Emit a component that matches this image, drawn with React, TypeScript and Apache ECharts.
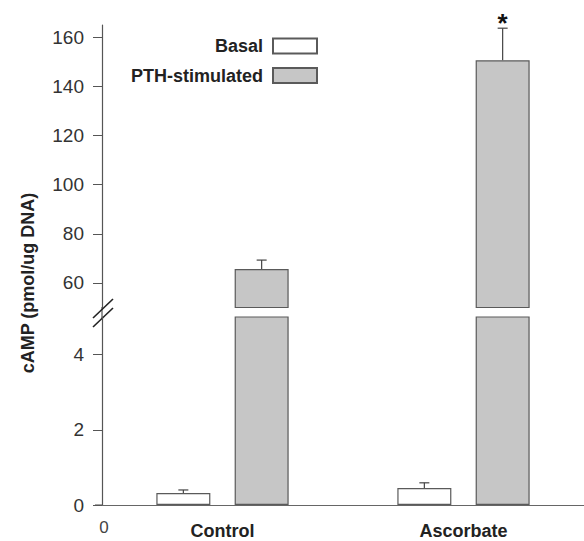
import React, { useEffect, useRef } from 'react';
import * as echarts from 'echarts';

const categories = ['Control', 'Ascorbate'];
const seriesNames = ['Basal', 'PTH-stimulated'];
const basal = [0.32, 0.45];
const basalErr = [0.4, 0.59];
const pth = [65.7, 150.6];
const pthErr = [69.3, 163.7];
const significance = ['', '*'];
const lowerTicks = [0, 2, 4];
const upperTicks = [60, 80, 100, 120, 140, 160];
const yTitle = 'cAMP (pmol/ug DNA)';
const originLabel = '0';

const FONT = '"Liberation Sans", Arial, Helvetica, sans-serif';
const BAR_W = 54;
const GAP_RATIO = 0.45;
const OFFSET = (BAR_W * (1 + GAP_RATIO)) / 2;
const AXIS_COLOR = '#555';
const BAR_BORDER = '#5a5a5a';
const PTH_FILL = '#c6c6c6';

function errorSeries(xIdx: number, vals: number[], errs: number[], sign: number, marks: string[]) {
  return {
    type: 'custom',
    xAxisIndex: xIdx,
    yAxisIndex: xIdx,
    silent: true,
    data: vals.map((v, i) => [i, v, errs[i]]),
    renderItem: (params: any, api: any) => {
      const c = api.coord([api.value(0), api.value(1)]);
      const t = api.coord([api.value(0), api.value(2)]);
      const x = c[0] + sign * OFFSET;
      const style = { stroke: '#444', lineWidth: 1.2 };
      const children: any[] = [
        { type: 'line', shape: { x1: x, y1: c[1], x2: x, y2: t[1] }, style },
        { type: 'line', shape: { x1: x - 5, y1: t[1], x2: x + 5, y2: t[1] }, style },
      ];
      const s = marks[params.dataIndex];
      if (s) {
        children.push({
          type: 'text',
          x,
          y: t[1] - 5,
          style: {
            text: s,
            fontSize: 26,
            fontWeight: 'bold',
            fontFamily: FONT,
            align: 'center',
            verticalAlign: 'middle',
            fill: '#111',
          },
        });
      }
      return { type: 'group', children };
    },
  };
}

export default function App() {
  const ref = useRef<HTMLDivElement>(null);
  useEffect(() => {
    if (!ref.current) return;
    const chart = echarts.init(ref.current, undefined, { renderer: 'svg' });
    const axisLine = { show: true, lineStyle: { color: AXIS_COLOR, width: 1.2 } };
    const tickLabel = { fontSize: 19, color: '#333', margin: 18, fontFamily: FONT };
    const basalStyle = { color: '#ffffff', borderColor: BAR_BORDER, borderWidth: 1.2 };
    const pthStyle = { color: PTH_FILL, borderColor: BAR_BORDER, borderWidth: 1.2 };
    chart.setOption({
      animation: false,
      backgroundColor: '#ffffff',
      textStyle: { fontFamily: FONT },
      legend: {
        orient: 'vertical',
        align: 'right',
        right: 261,
        top: 32,
        itemWidth: 44,
        itemHeight: 15,
        itemGap: 11.5,
        selectedMode: false,
        data: seriesNames.map((n) => ({ name: n, icon: 'rect' })),
        textStyle: { fontSize: 18, fontWeight: 'bold', color: '#222', fontFamily: FONT, padding: [0, 5, 0, 0] },
      },
      grid: [
        { left: 102, top: 25, width: 487, height: 282.5 },
        { left: 102, top: 317, width: 487, height: 188 },
      ],
      xAxis: [
        { gridIndex: 0, type: 'category', data: categories, show: false },
        {
          gridIndex: 1,
          type: 'category',
          data: categories,
          axisTick: { show: false },
          axisLine: { show: true, lineStyle: { color: '#666', width: 1.2 } },
          axisLabel: { fontSize: 18, fontWeight: 'bold', color: '#222', margin: 17, fontFamily: FONT },
        },
      ],
      yAxis: [
        {
          gridIndex: 0,
          type: 'value',
          min: 50,
          max: 165,
          splitLine: { show: false },
          axisLine,
          axisTick: { show: true, length: 9, customValues: upperTicks, lineStyle: { color: AXIS_COLOR } },
          axisLabel: { ...tickLabel, customValues: upperTicks },
        },
        {
          gridIndex: 1,
          type: 'value',
          min: 0,
          max: 5,
          splitLine: { show: false },
          axisLine,
          axisTick: { show: true, length: 9, customValues: lowerTicks, lineStyle: { color: AXIS_COLOR } },
          axisLabel: { ...tickLabel, customValues: lowerTicks },
        },
      ],
      series: [
        { name: seriesNames[0], type: 'bar', xAxisIndex: 0, yAxisIndex: 0, data: basal.map(() => '-'), barWidth: BAR_W, barGap: `${GAP_RATIO * 100}%`, itemStyle: basalStyle, clip: true },
        { name: seriesNames[1], type: 'bar', xAxisIndex: 0, yAxisIndex: 0, data: pth, barWidth: BAR_W, barGap: `${GAP_RATIO * 100}%`, itemStyle: pthStyle, clip: true },
        { name: seriesNames[0], type: 'bar', xAxisIndex: 1, yAxisIndex: 1, data: basal, barWidth: BAR_W, barGap: `${GAP_RATIO * 100}%`, itemStyle: basalStyle, clip: true },
        { name: seriesNames[1], type: 'bar', xAxisIndex: 1, yAxisIndex: 1, data: pth, barWidth: BAR_W, barGap: `${GAP_RATIO * 100}%`, itemStyle: pthStyle, clip: true },
        errorSeries(0, pth, pthErr, 1, significance),
        errorSeries(1, basal, basalErr, -1, ['', '']),
      ],
      graphic: [
        {
          type: 'text',
          x: 28,
          y: 283,
          rotation: Math.PI / 2,
          style: { text: yTitle, fontSize: 18, fontWeight: 'bold', fontFamily: FONT, fill: '#222', align: 'center', verticalAlign: 'middle' },
        },
        { type: 'line', shape: { x1: 102, y1: 307, x2: 102, y2: 318 }, style: { stroke: AXIS_COLOR, lineWidth: 1.2 } },
        { type: 'line', shape: { x1: 93, y1: 318, x2: 113, y2: 299 }, style: { stroke: '#222', lineWidth: 1.6 } },
        { type: 'line', shape: { x1: 93, y1: 327, x2: 113, y2: 308 }, style: { stroke: '#222', lineWidth: 1.6 } },
        { type: 'line', shape: { x1: 95, y1: 505, x2: 102, y2: 505 }, style: { stroke: '#666', lineWidth: 1.2 } },
        {
          type: 'text',
          x: 104,
          y: 527,
          style: { text: originLabel, fontSize: 17, fontFamily: FONT, fill: '#444', align: 'center', verticalAlign: 'middle' },
        },
      ],
    });
    return () => chart.dispose();
  }, []);
  return <div ref={ref} style={{ position: 'fixed', left: 0, top: 0, width: 584, height: 541 }} />;
}
